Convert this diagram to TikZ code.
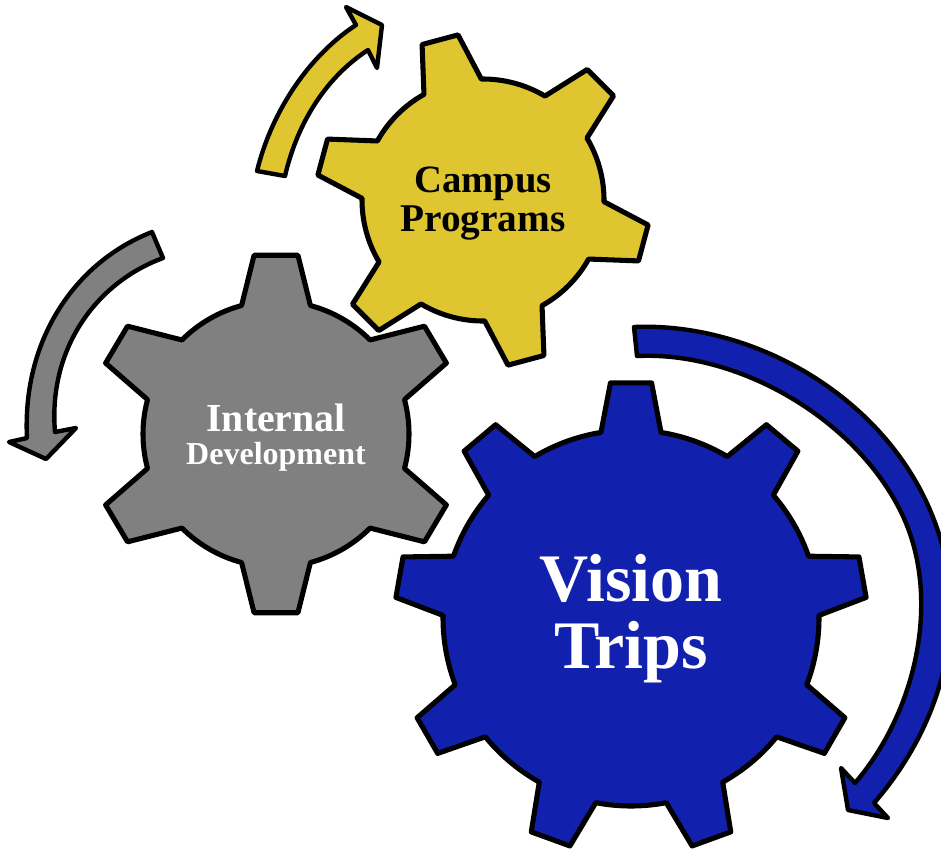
\documentclass[tikz,border=0pt]{standalone}
\usepackage{fontspec}
\setmainfont{Liberation Serif}
\definecolor{gearyellow}{HTML}{DFC52F}
\definecolor{geargray}{HTML}{808080}
\definecolor{gearblue}{HTML}{1220AE}
\tikzset{
  gearshape/.style={draw=black,line width=3.8pt,line join=round},
  sweep/.style={draw=black,line width=3.3pt,line join=round},
  gearlabel/.style={anchor=base,inner sep=0pt,font=\bfseries}
}
\newcommand{\tipstretch}{1}
% cx cy root tip basehalf tiphalf offset step count
\newcommand{\gearpath}[9]{%
  ({#1+#3*cos(#7-#5)},{#2+#3*sin(#7-#5)})
  \foreach \i in {1,...,#9} {
    -- ({#1+\tipstretch*#4*cos(#7+(\i-1)*#8-#6)},{#2+#4*sin(#7+(\i-1)*#8-#6)})
    -- ({#1+\tipstretch*#4*cos(#7+(\i-1)*#8+#6)},{#2+#4*sin(#7+(\i-1)*#8+#6)})
    -- ({#1+#3*cos(#7+(\i-1)*#8+#5)},{#2+#3*sin(#7+(\i-1)*#8+#5)})
    arc[start angle={#7+(\i-1)*#8+#5},end angle={#7+\i*#8-#5},radius=#3]
  } -- cycle
}
\begin{document}
\begin{tikzpicture}[x=0.75pt,y=0.75pt,yscale=-1]
\useasboundingbox (0,0) rectangle (941,850);
\clip (0,0) rectangle (941,850);
% sweeps
\draw[sweep,fill=gearyellow] (257,171) .. controls (272,110) and (310,55) .. (356,25)
  -- (346,7) -- (382,25) -- (377,68) -- (368,50)
  .. controls (328,76) and (298,120) .. (285,176) -- cycle;
\draw[sweep,fill=geargray] (152,232) .. controls (75,262) and (22,340) .. (27,438)
  -- (9,442) -- (46,459) -- (76,428) -- (55,432)
  .. controls (48,350) and (95,283) .. (163,258) -- cycle;
\draw[sweep,fill=gearblue] (634,327) .. controls (750,322) and (880,393) .. (930,510)
  .. controls (975,615) and (942,725) .. (874,803)
  -- (888,818) -- (848,810) -- (841,768) -- (855,783)
  .. controls (917,711) and (943,595) .. (900,510)
  .. controls (853,417) and (737,351) .. (637,356) -- cycle;
% gears
\renewcommand{\tipstretch}{1.03}
\draw[gearshape,fill=geargray] \gearpath{276}{434}{133}{180}{15}{6.8}{-90}{60}{6};
\renewcommand{\tipstretch}{1}
\draw[gearshape,fill=gearyellow] \gearpath{483}{200}{121}{167}{14.2}{6.4}{-105}{60}{6};
\draw[gearshape,fill=gearblue] \gearpath{631}{618}{188}{236}{9.2}{5}{-90}{40}{9};
% labels
\node[gearlabel,text=black,font=\bfseries\fontsize{29}{29}\selectfont] (campus) at (483,192) {Campus};
\node[gearlabel,text=black,font=\bfseries\fontsize{29.5}{29.5}\selectfont] (programs) at (483,231) {Programs};
\node[gearlabel,text=white,font=\bfseries\fontsize{29.8}{29.8}\selectfont] (internal) at (276,431) {Internal};
\node[gearlabel,text=white,font=\bfseries\fontsize{24}{24}\selectfont] (development) at (276,464) {Development};
\node[gearlabel,text=white,font=\bfseries\fontsize{51}{51}\selectfont] (vision) at (631,601) {Vision};
\node[gearlabel,text=white,font=\bfseries\fontsize{51}{51}\selectfont] (trips) at (631,668) {Trips};
\end{tikzpicture}
\end{document}
